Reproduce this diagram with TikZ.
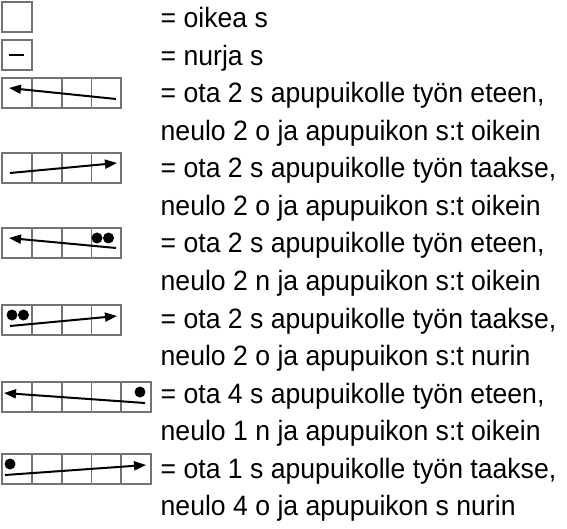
\documentclass[tikz,border=0pt]{standalone}
\usepackage{fontspec}
\setmainfont{Liberation Sans}[FakeStretch=0.95]
\usetikzlibrary{arrows.meta}
\def\cellrow(#1,#2)#3{\foreach \i in {1,...,#3} {\draw[cellline] ({#1+(\i-1)*29.8},#2) rectangle ++(29.8,29.8);}}

\tikzset{
  cellline/.style={line width=1.8pt, color=black!55},
  cablearrow/.style={line width=2pt, -{Triangle[length=12pt,width=9pt]}},
  legtext/.style={anchor=base west, inner sep=0pt, font=\fontsize{28}{30}\selectfont},
}

\begin{document}
\begin{tikzpicture}[x=1pt, y=-1pt]
		%%%%% START %%%%%
		\useasboundingbox (0,0) rectangle (567,529);
		
		% symbols
		\cellrow(2,2){1}
		\cellrow(2,40){1}
		\draw[line width=2.2pt] (9,55) -- (24,55);
		
		\cellrow(2,78){4}
		\draw[cablearrow] (116,99) -- (9,88);
		
		\cellrow(2,153){4}
		\draw[cablearrow] (10,173) -- (117,163);
		
		\cellrow(2,228){4}
		\draw[cablearrow] (116,248) -- (9,238);
		\fill (97,238) circle (5.5) (108.5,238) circle (5.5);
		
		\cellrow(2,305){4}
		\draw[cablearrow] (10,326) -- (117,316);
		\fill (12,315) circle (5.5) (23.5,315) circle (5.5);
		
		\cellrow(2,382){5}
		\draw[cablearrow] (145,403) -- (4,393);
		\fill (140,392) circle (5.5);
		
		\cellrow(2,454){5}
		\draw[cablearrow] (5,475) -- (146,465);
		\fill (10,464) circle (5.5);
		
		% texts
		\node[legtext] (t1) at (160.5,28) {= oikea s};
		\node[legtext] (t2) at (160.5,65.5) {= nurja s};
		\node[legtext] (t3) at (160.5,103) {= ota 2 s apupuikolle työn eteen,};
		\node[legtext] (t4) at (160.5,140.5) {neulo 2 o ja apupuikon s:t oikein};
		\node[legtext] (t5) at (160.5,178) {= ota 2 s apupuikolle työn taakse,};
		\node[legtext] (t6) at (160.5,215.5) {neulo 2 o ja apupuikon s:t oikein};
		\node[legtext] (t7) at (160.5,253) {= ota 2 s apupuikolle työn eteen,};
		\node[legtext] (t8) at (160.5,290.5) {neulo 2 n ja apupuikon s:t oikein};
		\node[legtext] (t9) at (160.5,328) {= ota 2 s apupuikolle työn taakse,};
		\node[legtext] (t10) at (160.5,365.5) {neulo 2 o ja apupuikon s:t nurin};
		\node[legtext] (t11) at (160.5,403) {= ota 4 s apupuikolle työn eteen,};
		\node[legtext] (t12) at (160.5,440.5) {neulo 1 n ja apupuikon s:t oikein};
		\node[legtext] (t13) at (160.5,478) {= ota 1 s apupuikolle työn taakse,};
		\node[legtext] (t14) at (160.5,515.5) {neulo 4 o ja apupuikon s nurin};
		%%%%% END %%%%%
\end{tikzpicture}
\end{document}
